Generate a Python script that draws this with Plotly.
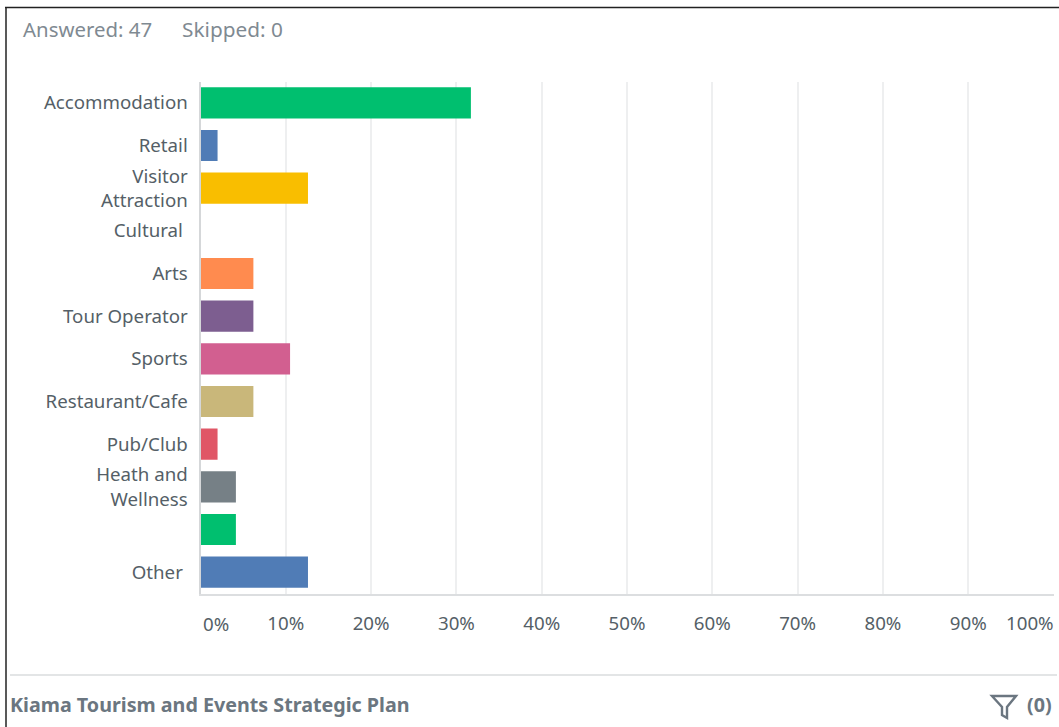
import plotly.graph_objects as go

W, H = 1059, 727

# Survey response shares, top to bottom
categories = ["Accommodation", "Retail", "Visitor<br>Attraction", "Cultural ", "Arts",
              "Tour Operator", "Sports", "Restaurant/Cafe", "Pub/Club",
              "Heath and<br>Wellness", " ", "Other "]
shares = [31.7, 2.0, 12.6, 0, 6.2, 6.2, 10.5, 6.2, 2.0, 4.15, 4.15, 12.6]
bar_colors = ["#00BF6F", "#507CB6", "#F9BE00", "#6BC8CD", "#FF8B4F", "#7D5E90",
              "#D25F90", "#C9B77A", "#E05666", "#768086", "#00BF6F", "#507CB6"]
x_ticks = [0, 10, 20, 30, 40, 50, 60, 70, 80, 90, 100]
x_tick_labels = ["", "10%", "20%", "30%", "40%", "50%", "60%", "70%", "80%", "90%", ""]

FONT = "Noto Sans"
LABEL = "#555F67"
MUTED = "#7F8A92"


def px(x):
    return x / W


def py(y):
    return 1 - y / H


fig = go.Figure(go.Bar(
    x=shares, y=categories, orientation="h",
    marker=dict(color=bar_colors, line=dict(width=0)),
    width=0.73, hoverinfo="skip",
))

fig.update_layout(
    width=W, height=H, margin=dict(l=0, r=0, t=0, b=0),
    autosize=False,
    paper_bgcolor="white", plot_bgcolor="white",
    showlegend=False, font=dict(family=FONT, size=18.5, color=LABEL),
    xaxis=dict(domain=[px(200.5), px(1053.5)], range=[0, 100],
               tickvals=x_ticks, ticktext=x_tick_labels, ticklen=0,
               tickfont=dict(size=18.7, color=LABEL),
               gridcolor="#EEEFF0", gridwidth=2, zeroline=False,
               showline=True, linecolor="#DCDEE0", linewidth=2, ticklabelstandoff=12),
    yaxis=dict(domain=[py(593.5), py(81.5)], categoryorder="array", categoryarray=categories,
               autorange="reversed", ticklen=0, tickfont=dict(size=18.7, color=LABEL),
               showgrid=False, zeroline=False, showline=True, linecolor="#D5D7D9", linewidth=2,
               ticklabelstandoff=7),
)

# Page frame, footer rule and filter icon
fig.add_shape(type="line", xref="paper", yref="paper", x0=px(6), x1=px(6), y0=py(7), y1=py(727),
              line=dict(color="#222222", width=1.5))
fig.add_shape(type="line", xref="paper", yref="paper", x0=px(5), x1=px(1059), y0=py(7.5), y1=py(7.5),
              line=dict(color="#222222", width=1.5))
fig.add_shape(type="line", xref="paper", yref="paper", x0=px(10), x1=px(1057), y0=py(675), y1=py(675),
              line=dict(color="#DADCDE", width=1.5))
funnel = [(992, 696), (1016, 696), (1007, 707), (1007, 718), (1002, 715), (1002, 707)]
fig.add_shape(type="path", xref="paper", yref="paper",
              path="M " + " L ".join(f"{px(a):.5f},{py(b):.5f}" for a, b in funnel) + " Z",
              line=dict(color="#6B7680", width=2.4), fillcolor="white")


def text(x, y, s, anchor="left", size=18.7, color=LABEL):
    fig.add_annotation(xref="paper", yref="paper", x=px(x), y=py(y), text=s, showarrow=False,
                       xanchor=anchor, yanchor="middle", align=anchor,
                       font=dict(family=FONT, size=size, color=color))


text(20.5, 29, "Answered: 47", color=MUTED, size=20.4)
text(180, 29, "Skipped: 0", color=MUTED, size=20.8)
text(216, 623, "0%", anchor="center")
text(1056, 622.5, "100%", anchor="right")
text(8, 704, "<b>Kiama Tourism and Events Strategic Plan</b>", color="#6B7680", size=19.7)
text(1054, 704, "<b>(0)</b>", anchor="right", color="#6B7680", size=19.7)

fig.write_html("out.html", config={"displayModeBar": False})
